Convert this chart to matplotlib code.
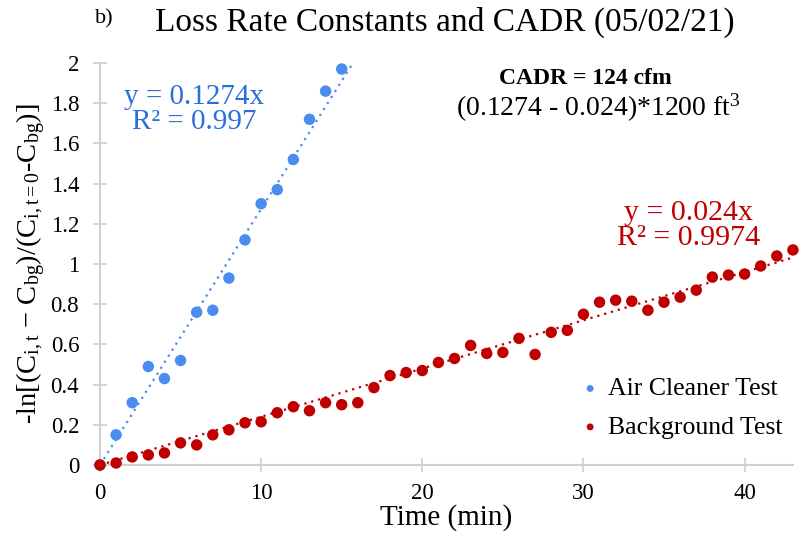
import matplotlib
matplotlib.use("Agg")
import matplotlib.pyplot as plt
import numpy as np

plt.rcParams['font.family'] = ['Liberation Serif', 'DejaVu Serif']
plt.rcParams['mathtext.fontset'] = 'custom'
plt.rcParams['mathtext.rm'] = 'Liberation Serif'
plt.rcParams['mathtext.it'] = 'Liberation Serif:italic'

# Air cleaner test
t_air = [0, 1, 2, 3, 4, 5, 6, 7, 8, 9, 10, 11, 12, 13, 14, 15]
y_air = [0.0, 0.15, 0.31, 0.49, 0.43, 0.52, 0.76, 0.77, 0.93, 1.12, 1.30, 1.37,
         1.52, 1.72, 1.86, 1.97]
# Background test
t_bg = list(range(0, 44))
y_bg = [0.0, 0.01, 0.04, 0.05, 0.06, 0.11, 0.10, 0.15, 0.175, 0.21, 0.215, 0.26,
        0.29, 0.27, 0.31, 0.30, 0.31, 0.385, 0.445, 0.46, 0.47, 0.51, 0.53, 0.595,
        0.555, 0.56, 0.63, 0.55, 0.66, 0.67, 0.75, 0.81, 0.82, 0.815, 0.77, 0.81,
        0.835, 0.87, 0.935, 0.945, 0.95, 0.99, 1.04, 1.07]
k_air = 0.1274
k_bg = 0.024
x_ticks = [0, 10, 20, 30, 40]
y_ticks = [0, 0.2, 0.4, 0.6, 0.8, 1, 1.2, 1.4, 1.6, 1.8, 2]
y_tick_labels = ['0', '0.2', '0.4', '0.6', '0.8', '1', '1.2', '1.4', '1.6', '1.8', '2']

blue = '#4a8cf0'
blue_txt = '#2a6fdc'
red = '#c00000'

fig = plt.figure(figsize=(8.05, 5.39), dpi=100)
ax = fig.add_axes([0.1242, 0.1373, 0.8608, 0.7458])

xmax = 43
ymax = 2
# trendlines
xa = np.linspace(0, ymax / k_air, 50)
ax.plot(xa, k_air * xa, linestyle=(0, (1, 2.2)), color=blue, lw=1.6, zorder=2)
xb = np.linspace(0, xmax, 50)
ax.plot(xb, k_bg * xb, linestyle=(0, (1, 2.2)), color=red, lw=1.6, zorder=2)

ax.scatter(t_air, y_air, s=68, color=blue, edgecolors='none', label='Air Cleaner Test',
           zorder=3, clip_on=False)
ax.scatter(t_bg, y_bg, s=68, color=red, edgecolors='none', label='Background Test',
           zorder=3, clip_on=False)

ax.set_xlim(0, xmax)
ax.set_ylim(0, ymax)
ax.set_xticks(x_ticks)
ax.set_yticks(y_ticks)
ax.set_yticklabels(y_tick_labels)

for s in ['top', 'right']:
    ax.spines[s].set_visible(False)
for s in ['left', 'bottom']:
    ax.spines[s].set_color('#d0d0d0')
    ax.spines[s].set_linewidth(1.5)
ax.tick_params(axis='both', direction='inout', length=10, width=1.2, color='#d0d0d0',
               labelsize=16.5, labelcolor='black')
ax.tick_params(axis='x', pad=8)
ax.tick_params(axis='y', pad=10)

ax.set_xlabel('Time (min)', fontsize=21, labelpad=0)
ax.set_ylabel(r'-ln[(C$_{\mathregular{i,t}}$ $-$ C$_{\mathregular{bg}}$)/(C$_{\mathregular{i,t=0}}$-C$_{\mathregular{bg}}$)]',
              fontsize=20.5, labelpad=2)

fig.text(0.553, 0.959, 'Loss Rate Constants and CADR (05/02/21)', fontsize=24,
         ha='center', va='center')
fig.text(0.118, 0.965, 'b)', fontsize=16, ha='left', va='center')

ax.text(0.1356, 0.884, 'y = 0.1274x\nR² = 0.997', transform=ax.transAxes, color=blue_txt,
        fontsize=21, ha='center', va='center', linespacing=0.95)
ax.text(0.952, 0.597, 'y = 0.024x\nR² = 0.9974', transform=ax.transAxes, color=red,
        fontsize=21.5, ha='right', va='center', linespacing=0.95, multialignment='center')

fig.text(0.727, 0.855, 'CADR = 124 cfm', fontsize=17, fontweight='bold',
         ha='center', va='center')
fig.text(0.743, 0.80, '(0.1274 - 0.024)*1200 ft$^{3}$', fontsize=20,
         ha='center', va='center')

leg = ax.legend(loc='lower right', bbox_to_anchor=(1.0, 0.04), frameon=False,
                fontsize=18.5, handletextpad=-0.3, markerscale=0.6,
                labelspacing=0.6, borderaxespad=0.0)

fig.savefig('out.png', dpi=100)
